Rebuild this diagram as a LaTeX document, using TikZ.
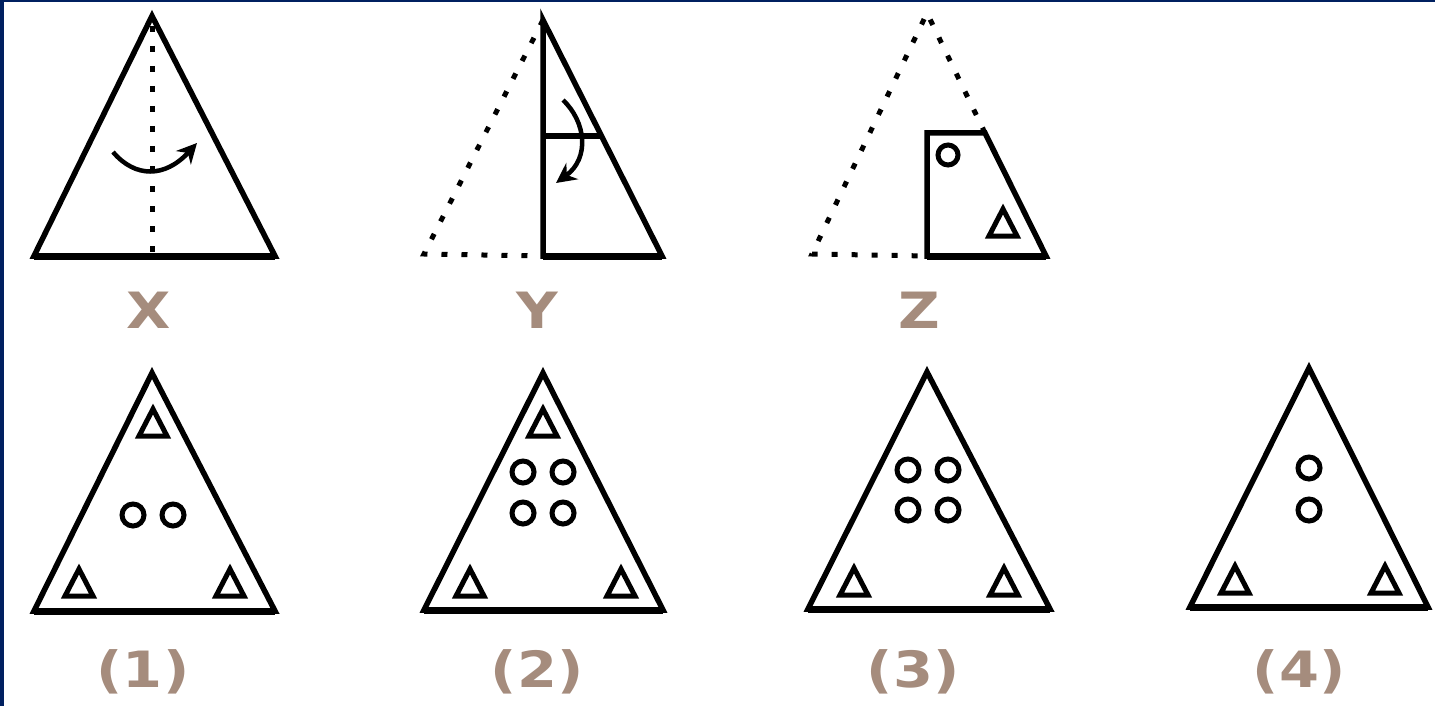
\documentclass[tikz,border=0pt]{standalone}
\usepackage{fontspec}
\setsansfont{DejaVu Sans}
\usepackage{xcolor}
\usepackage{tikz}
\usetikzlibrary{arrows.meta,positioning}

\definecolor{frameblue}{RGB}{0,32,96}
\definecolor{labeltan}{RGB}{165,140,125}

\begin{document}
\begin{tikzpicture}[x=1pt, y=-1pt,
  outline/.style={draw, black, line width=5.5pt, line join=miter},
  baseline/.style={draw, black, line width=7pt},
  foldline/.style={draw, black, line width=5pt, dash pattern=on 6pt off 14pt},
  markline/.style={draw, black, line width=5pt},
  turn/.style={draw, black, line width=4.5pt, -{Stealth[length=20pt, width=20pt]}},
  caption/.style={font=\sffamily\bfseries\fontsize{50}{50}\selectfont, text=labeltan, anchor=base, inner sep=0pt},
  tri/.pic={\draw[markline] (-14,0) -- (0,-27) -- (14,0) -- cycle;}]

  \useasboundingbox (0,0) rectangle (1435,706);
  \fill[frameblue] (0,0) rectangle (4,706);
  \fill[frameblue] (0,0) rectangle (1435,2);

  % X: fold along the axis
  \draw[outline] (152,16) -- (34,256) -- (275,256) -- cycle;
  \draw[baseline] (34,256) -- (275,256);
  \draw[foldline] (152,26) -- (152,252);
  \draw[turn] (113,152) .. controls (135,178) and (165,178) .. (197,143);

  % Y: half folded over
  \draw[foldline] (543,20) -- (424,254) -- (543,256);
  \draw[outline] (543,20) -- (543,256) -- (662,256) -- cycle;
  \draw[baseline] (543,256) -- (662,256);
  \draw[outline] (543,136) -- (602,136);
  \draw[turn] (563,100) .. controls (586,122) and (590,158) .. (556,183);

  % Z: folded and punched
  \draw[foldline] (985,133) -- (927,13) -- (812,254) -- (927,256);
  \draw[outline] (927,256) -- (927,133) -- (985,133) -- (1046,256) -- cycle;
  \draw[baseline] (927,256) -- (1046,256);
  \draw[markline] (948,155) circle (10);
  \pic at (1003,236) {tri};

  \node[caption] (capX) at (149,328) {\scalebox{1.15}[1]{X}};
  \node[caption] (capY) at (537,328) {\scalebox{1.15}[1]{Y}};
  \node[caption] (capZ) at (919,328) {\scalebox{1.15}[1]{Z}};

  % option 1
  \draw[outline] (152,373) -- (34,611) -- (275,611) -- cycle;
  \draw[baseline] (34,611) -- (275,611);
  \pic at (153,436) {tri};
  \pic at (79,596) {tri};
  \pic at (230,596) {tri};
  \foreach \cx in {133,173}
    \draw[markline] (\cx,515) circle (11);

  % option 2
  \draw[outline] (543,373) -- (424,610) -- (663,610) -- cycle;
  \draw[baseline] (424,610) -- (663,610);
  \pic at (543,436) {tri};
  \pic at (470,596) {tri};
  \pic at (621,596) {tri};
  \foreach \cx in {523,563}
    \foreach \cy in {472,513}
      \draw[markline] (\cx,\cy) circle (11);

  % option 3
  \draw[outline] (927,372) -- (808,609) -- (1050,609) -- cycle;
  \draw[baseline] (808,609) -- (1050,609);
  \pic at (854,595) {tri};
  \pic at (1004,595) {tri};
  \foreach \cx in {908,948}
    \foreach \cy in {470,510}
      \draw[markline] (\cx,\cy) circle (11);

  % option 4
  \draw[outline] (1309,368) -- (1190,607) -- (1428,607) -- cycle;
  \draw[baseline] (1190,607) -- (1428,607);
  \pic at (1235,593) {tri};
  \pic at (1385,593) {tri};
  \foreach \cy in {468,510}
    \draw[markline] (1309,\cy) circle (11);

  \node[caption] (cap1) at (143,687) {\scalebox{1.15}[1]{(1)}};
  \node[caption] (cap2) at (537,687) {\scalebox{1.15}[1]{(2)}};
  \node[caption] (cap3) at (913,687) {\scalebox{1.15}[1]{(3)}};
  \node[caption] (cap4) at (1299,687) {\scalebox{1.15}[1]{(4)}};
\end{tikzpicture}
\end{document}
